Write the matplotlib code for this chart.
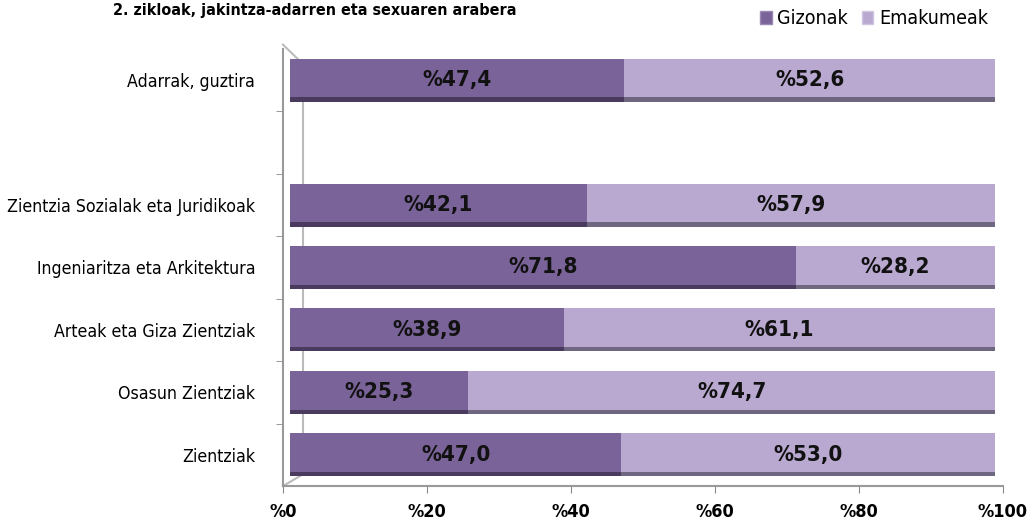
import numpy as np
import matplotlib.pyplot as plt
from matplotlib.patches import Patch

# data
categories = ["Adarrak, guztira", "", "Zientzia Sozialak eta Juridikoak",
              "Ingeniaritza eta Arkitektura", "Arteak eta Giza Zientziak",
              "Osasun Zientziak", "Zientziak"]
gizonak = [47.4, np.nan, 42.1, 71.8, 38.9, 25.3, 47.0]
emakumeak = [52.6, np.nan, 57.9, 28.2, 61.1, 74.7, 53.0]
xticks = [0, 20, 40, 60, 80, 100]
xticklabels = ["%0", "%20", "%40", "%60", "%80", "%100"]

dark = "#7a6398"
light = "#b9a9d0"
plt.rcParams['font.family'] = ['DejaVu Sans']
plt.rcParams['font.stretch'] = 'condensed'

W, H = 1029, 524
fig = plt.figure(figsize=(W / 100, H / 100), dpi=100)

def rect(x0, y0, x1, y1):
    return [x0 / W, 1 - y1 / H, (x1 - x0) / W, (y1 - y0) / H]

# axis frame (front plane)
ax = fig.add_axes(rect(283, 49, 1003, 486))
# bars (slightly shifted, like the 3d plot)
bx = fig.add_axes(rect(290, 49, 995, 486), sharey=ax)
bx.set_xlim(0, 100)
bx.axis("off")

# back wall lines of the 3d frame
wall = dict(color="#bbbbbb", lw=1.5, transform=ax.transAxes, clip_on=False, zorder=0)
ax.plot([0.028, 0.028], [0.027, 0.965], **wall)
ax.plot([0, 0.028], [1.01, 0.965], **wall)
ax.plot([0, 0.028], [0.0, 0.027], **wall)

pos = np.arange(len(categories))
g = np.array(gizonak)
e = np.array(emakumeak)
hgt = 0.69
bx.barh(pos, g, height=hgt, color=dark)
bx.barh(pos, e, left=g, height=hgt, color=light)
# darker lower edge for a bit of depth
bx.barh(pos + hgt / 2 - 0.035, g, height=0.07, color="#4a3a5e")
bx.barh(pos + hgt / 2 - 0.035, e, left=g, height=0.07, color="#6f6680")

for i in range(len(categories)):
    if np.isnan(g[i]):
        continue
    bx.text(g[i] / 2, pos[i], "%" + f"{g[i]:.1f}".replace(".", ","),
            ha="center", va="center", fontsize=16, fontweight="bold", color="#111111")
    bx.text(g[i] + e[i] / 2, pos[i], "%" + f"{e[i]:.1f}".replace(".", ","),
            ha="center", va="center", fontsize=16, fontweight="bold", color="#111111")

ax.set_xlim(0, 100)
ax.set_ylim(len(categories) - 0.5, -0.5)
ax.set_xticks(xticks)
ax.set_xticklabels(xticklabels, fontsize=13, fontweight="bold")
ax.set_yticks(pos)
ax.set_yticklabels(categories, fontsize=12.7)
ax.set_yticks(pos[1:] - 0.5, minor=True)
ax.tick_params(axis="y", which="major", length=0, pad=20)
ax.tick_params(axis="y", which="minor", length=5, color="#888888")
ax.tick_params(axis="x", length=5, color="#888888", pad=7)
for s in ["top", "right"]:
    ax.spines[s].set_visible(False)
for s in ["left", "bottom"]:
    ax.spines[s].set_color("#999999")
    ax.spines[s].set_linewidth(1.5)
ax.patch.set_alpha(0)

fig.text(315 / W, 1 - 11 / H, "2. zikloak, jakintza-adarren eta sexuaren arabera",
         ha="center", va="center", fontsize=11.5, fontweight="bold")

handles = [Patch(facecolor=dark, edgecolor="#9a88b4"), Patch(facecolor=light, edgecolor="#d0c6e0")]
fig.legend(handles, ["Gizonak", "Emakumeak"], loc="center right",
           bbox_to_anchor=(998 / W, 1 - 19 / H), ncol=2, frameon=False,
           fontsize=14, handlelength=0.6, handleheight=0.6, handletextpad=0.3,
           columnspacing=0.7, borderpad=0)

fig.savefig("out.png", dpi=100)
